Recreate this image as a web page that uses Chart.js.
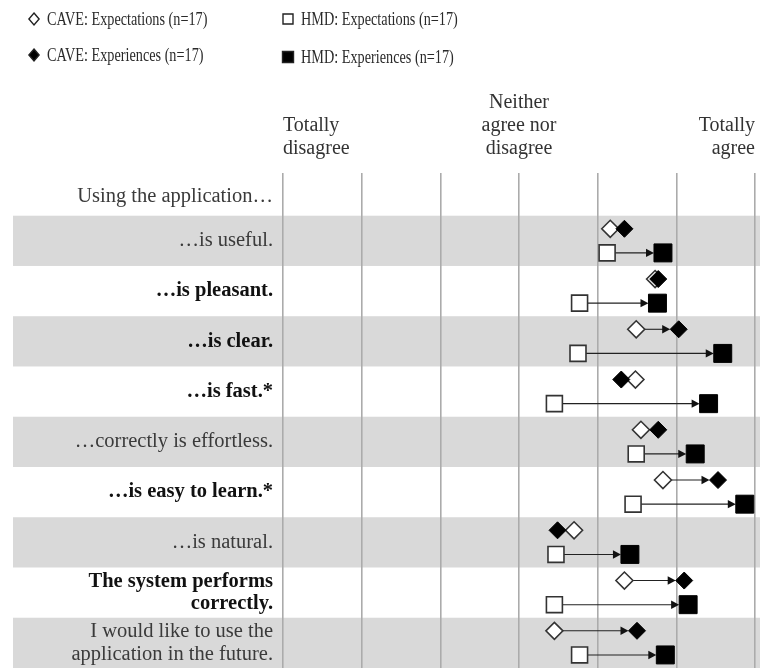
<!DOCTYPE html>
<html><head><meta charset="utf-8">
<script src="https://cdn.jsdelivr.net/npm/chart.js@4.4.1/dist/chart.umd.min.js"></script>
<style>html,body{margin:0;padding:0;background:#fff;}#wrap{position:relative;width:760px;height:672px;}</style>
</head><body><div id="wrap"><canvas id="c"></canvas></div>
<script>
// ---- data ----
const categories = [
  'Using the application…',
  '…is useful.',
  '…is pleasant.',
  '…is clear.',
  '…is fast.*',
  '…correctly is effortless.',
  '…is easy to learn.*',
  '…is natural.',
  ['The system performs', 'correctly.'],
  ['I would like to use the', 'application in the future.']
];
const boldRows = [false, false, true, true, true, false, true, false, true, false];
const itemRows = [1, 2, 3, 4, 5, 6, 7, 8, 9];
const caveExpectations = [5.16, 5.73, 5.49, 5.48, 5.55, 5.83, 4.70, 5.34, 4.45];
const caveExperiences  = [5.34, 5.77, 6.03, 5.30, 5.77, 6.53, 4.49, 6.10, 5.50];
const hmdExpectations  = [5.12, 4.77, 4.75, 4.45, 5.49, 5.45, 4.47, 4.45, 4.77];
const hmdExperiences   = [5.83, 5.76, 6.59, 6.41, 6.24, 6.87, 5.41, 6.15, 5.86];
const caveArrow = [false, false, true, false, false, true, false, true, true];
const hmdArrow  = [true, true, true, true, true, true, true, true, true];
const scaleValues = [1, 4, 7];
const scaleLabels = [['Totally', 'disagree'], ['Neither', 'agree nor', 'disagree'], ['Totally', 'agree']];
const seriesLabels = ['CAVE: Expectations (n=17)', 'CAVE: Experiences (n=17)', 'HMD: Expectations (n=17)', 'HMD: Experiences (n=17)'];

// ---- styling ----
const FONT = '"Liberation Serif", "Times New Roman", serif';
const ROW_OFF = 0.24;
const R_DIA = 8.5, R_SQ_OPEN = 11.3, R_SQ_FILL = 12.7;

function pts(vals, off) { return vals.map((v, i) => ({ x: v, y: itemRows[i] + off })); }

const datasets = [
  { label: seriesLabels[1], data: pts(caveExperiences, -ROW_OFF), pointStyle: 'rectRot', pointRadius: R_DIA, backgroundColor: '#000', borderColor: '#000', borderWidth: 1 },
  { label: seriesLabels[3], data: pts(hmdExperiences, ROW_OFF), pointStyle: 'rect', pointRadius: R_SQ_FILL, backgroundColor: '#000', borderColor: '#000', borderWidth: 1 },
  { label: seriesLabels[0], data: pts(caveExpectations, -ROW_OFF), pointStyle: 'rectRot', pointRadius: R_DIA, backgroundColor: '#fff', borderColor: '#333', borderWidth: 1.6 },
  { label: seriesLabels[2], data: pts(hmdExpectations, ROW_OFF), pointStyle: 'rect', pointRadius: R_SQ_OPEN, backgroundColor: '#fff', borderColor: '#333', borderWidth: 1.6 }
];

const bandsPlugin = {
  id: 'bands',
  beforeDraw(chart) {
    const { ctx } = chart; const y = chart.scales.y;
    ctx.save(); ctx.fillStyle = '#d9d9d9';
    for (let i = 1; i < categories.length; i += 2) {
      const a = y.getPixelForValue(i - 0.5), b = y.getPixelForValue(i + 0.5);
      ctx.fillRect(13, Math.min(a, b), chart.width - 13, Math.abs(b - a));
    }
    ctx.restore();
  }
};

function arrow(ctx, x1, x2, yy) {
  ctx.beginPath(); ctx.moveTo(x1, yy); ctx.lineTo(x2 - 6, yy); ctx.stroke();
  ctx.beginPath(); ctx.moveTo(x2, yy); ctx.lineTo(x2 - 8, yy - 4.2); ctx.lineTo(x2 - 8, yy + 4.2); ctx.closePath(); ctx.fill();
}

const arrowsPlugin = {
  id: 'arrows',
  beforeDatasetsDraw(chart) {
    const { ctx } = chart; const xs = chart.scales.x, ys = chart.scales.y;
    ctx.save(); ctx.strokeStyle = '#222'; ctx.fillStyle = '#111'; ctx.lineWidth = 1.1;
    itemRows.forEach((r, i) => {
      if (caveArrow[i]) {
        const yy = ys.getPixelForValue(r - ROW_OFF);
        arrow(ctx, xs.getPixelForValue(caveExpectations[i]) + R_DIA, xs.getPixelForValue(caveExperiences[i]) - R_DIA, yy);
      }
      if (hmdArrow[i]) {
        const yy = ys.getPixelForValue(r + ROW_OFF);
        arrow(ctx, xs.getPixelForValue(hmdExpectations[i]) + R_SQ_OPEN * 0.707, xs.getPixelForValue(hmdExperiences[i]) - R_SQ_FILL * 0.707, yy);
      }
    });
    ctx.restore();
  }
};

function condensedText(ctx, t, x, y, sx) {
  ctx.save(); ctx.translate(x, y); ctx.scale(sx, 1); ctx.fillText(t, 0, 0); ctx.restore();
}

const annotPlugin = {
  id: 'annot',
  afterDraw(chart) {
    const { ctx } = chart; const xs = chart.scales.x;
    ctx.save();
    // scale anchor labels
    ctx.fillStyle = '#333'; ctx.font = '20px ' + FONT; ctx.textBaseline = 'alphabetic';
    const aligns = ['left', 'center', 'right'];
    scaleValues.forEach((v, k) => {
      const lines = scaleLabels[k]; const px = xs.getPixelForValue(v);
      ctx.textAlign = aligns[k];
      lines.forEach((ln, j) => { ctx.fillText(ln, px, 154 - (lines.length - 1 - j) * 23); });
    });
    // legend
    ctx.textAlign = 'left'; ctx.textBaseline = 'middle'; ctx.font = '18.5px ' + FONT; ctx.fillStyle = '#2a2a2a';
    const items = [
      { t: seriesLabels[0], x: 34, y: 19, shape: 'dia', fill: false },
      { t: seriesLabels[2], x: 288, y: 19, shape: 'sq', fill: false },
      { t: seriesLabels[1], x: 34, y: 55, shape: 'dia', fill: true },
      { t: seriesLabels[3], x: 288, y: 57, shape: 'sq', fill: true }
    ];
    items.forEach(it => {
      ctx.save();
      ctx.lineWidth = 1.4; ctx.strokeStyle = '#222'; ctx.fillStyle = it.fill ? '#000' : '#fff';
      ctx.beginPath();
      if (it.shape === 'dia') {
        const r = 6; ctx.moveTo(it.x, it.y - r); ctx.lineTo(it.x + r * 0.85, it.y); ctx.lineTo(it.x, it.y + r); ctx.lineTo(it.x - r * 0.85, it.y); ctx.closePath();
      } else {
        const h = it.fill ? 5.5 : 5; ctx.rect(it.x - h, it.y - h, 2 * h, 2 * h);
      }
      ctx.fill(); ctx.stroke(); ctx.restore();
      condensedText(ctx, it.t, it.x + 13, it.y + 1, 0.77);
    });
    ctx.restore();
  }
};

new Chart(document.getElementById('c'), {
  type: 'scatter',
  data: { datasets },
  plugins: [bandsPlugin, arrowsPlugin, annotPlugin],
  options: {
    responsive: true, maintainAspectRatio: false, animation: false,
    layout: { autoPadding: false, padding: { top: 173, right: 5, bottom: 4, left: 0 } },
    plugins: { legend: { display: false }, tooltip: { enabled: false } },
    scales: {
      x: {
        type: 'linear', min: 1, max: 7, position: 'top',
        ticks: { display: false, stepSize: 1 },
        grid: { color: '#ababab', lineWidth: 1.6, drawTicks: false },
        border: { display: false },
        afterFit: s => { s.height = 0; s.paddingLeft = 0; s.paddingRight = 0; }
      },
      y: {
        type: 'linear', reverse: true, min: -0.35, max: 9.5,
        afterBuildTicks: s => { s.ticks = categories.map((c, i) => ({ value: i === 0 ? 0.12 : i })); },
        afterFit: s => { s.width = 283; s.paddingTop = 0; s.paddingBottom = 0; },
        ticks: {
          autoSkip: false, padding: 10, crossAlign: 'near',
          callback: (v, i) => categories[i],
          font: ctx => ({ family: FONT, size: 20.5, weight: boldRows[ctx.index] ? 'bold' : 'normal', lineHeight: 1.1 }),
          color: ctx => boldRows[ctx.index] ? '#111' : '#3a3a3a'
        },
        grid: { display: false, drawTicks: false },
        border: { display: false }
      }
    }
  }
});
</script>
</body></html>
